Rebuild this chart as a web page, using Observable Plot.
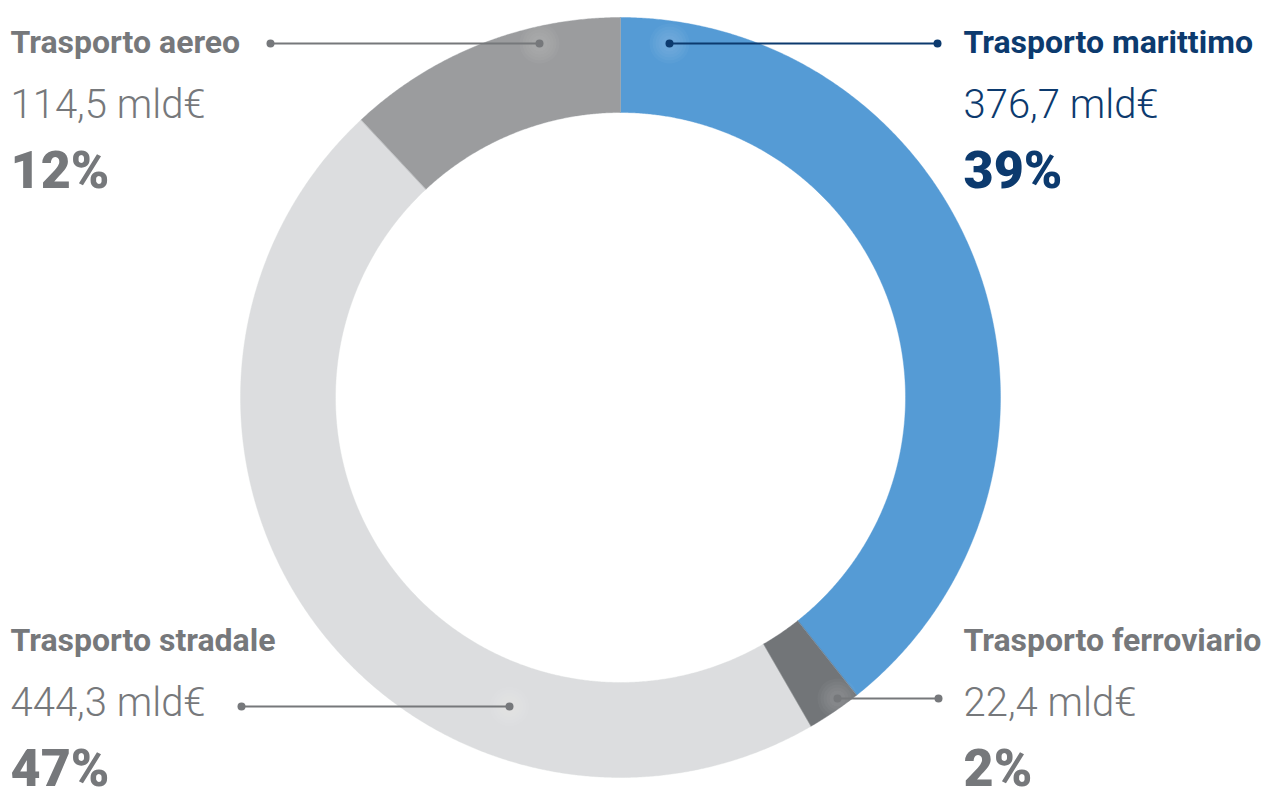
<!DOCTYPE html>
<html>
<head>
<meta charset="utf-8">
<script src="https://cdn.jsdelivr.net/npm/d3@7"></script>
<script src="https://cdn.jsdelivr.net/npm/@observablehq/plot@0.6"></script>
<style>
  html, body { margin: 0; padding: 0; background: #ffffff; }
  #chart svg { display: block; overflow: visible; }
</style>
</head>
<body>
<div id="chart"></div>
<script>
// ---- data ----
const categories = ["Trasporto marittimo", "Trasporto ferroviario", "Trasporto stradale", "Trasporto aereo"];
const values = [376.7, 22.4, 444.3, 114.5];          // mld€
const percents = [39, 2, 47, 12];                    // % as shown
const sliceColors = ["#559BD5", "#727578", "#DCDDDF", "#9B9C9E"];
const textColors = ["#0C3A6E", "#76787B", "#76787B", "#76787B"];

// ---- layout (pixels) ----
const W = 1266, H = 787;
const cx = 620, cy = 397, rOuter = 380, rInner = 285;
const labelX = [963, 963, 10, 10];
const labelRow = ["top", "bottom", "bottom", "top"];
const rowBaselines = {top: [52, 117, 187], bottom: [650, 715, 785]};
const leaders = [
  {x1: 669, y1: 43, x2: 937, y2: 43},
  {x1: 837, y1: 698, x2: 938, y2: 698},
  {x1: 509, y1: 706, x2: 241, y2: 706},
  {x1: 539, y1: 43, x2: 270, y2: 43}
];
const haloRadii = [20, 17, 14, 11, 8];

// ---- build slice outlines from the values via d3.pie ----
const arcs = d3.pie().sort(null).value(d => d)(values);
const ringPoints = [];
arcs.forEach((a, i) => {
  const n = Math.max(8, Math.ceil((a.endAngle - a.startAngle) / 0.005));
  const pts = [];
  for (let k = 0; k <= n; k++) {
    const t = a.startAngle + (a.endAngle - a.startAngle) * k / n;
    pts.push({x: cx + rOuter * Math.sin(t), y: cy - rOuter * Math.cos(t)});
  }
  for (let k = n; k >= 0; k--) {
    const t = a.startAngle + (a.endAngle - a.startAngle) * k / n;
    pts.push({x: cx + rInner * Math.sin(t), y: cy - rInner * Math.cos(t)});
  }
  pts.forEach(p => ringPoints.push({...p, key: categories[i], color: sliceColors[i]}));
});

const fmt = v => v.toFixed(1).replace(".", ",") + " mld€";
const rows = categories.map((c, i) => ({
  label: c,
  value: fmt(values[i]),
  pct: percents[i] + "%",
  x: labelX[i],
  yl: rowBaselines[labelRow[i]][0],
  yv: rowBaselines[labelRow[i]][1],
  yp: rowBaselines[labelRow[i]][2],
  color: textColors[i],
  ...leaders[i]
}));

const chart = Plot.plot({
  width: W,
  height: H,
  margin: 0,
  x: {domain: [0, W], range: [0, W], axis: null},
  y: {domain: [0, H], range: [0, H], axis: null},
  color: {type: "identity"},
  marks: [
    Plot.line(ringPoints, {x: "x", y: "y", z: "key", fill: "color", stroke: "color", strokeWidth: 0.4, curve: "linear-closed"}),
    ...haloRadii.map(r => Plot.dot(rows, {x: "x1", y: "y1", r, fill: "white", fillOpacity: 0.03, stroke: null})),
    Plot.link(rows, {x1: "x1", y1: "y1", x2: "x2", y2: "y2", stroke: "color", strokeWidth: 2}),
    Plot.dot(rows, {x: "x1", y: "y1", r: 4, fill: "color", stroke: null}),
    Plot.dot(rows, {x: "x2", y: "y2", r: 4, fill: "color", stroke: null}),
    Plot.text(rows, {x: "x", y: "yl", text: "label", fill: "color", textAnchor: "start", lineAnchor: "bottom",
      fontFamily: "Roboto", fontSize: 32, fontWeight: 700}),
    Plot.text(rows, {x: "x", y: "yv", text: "value", fill: "color", textAnchor: "start", lineAnchor: "bottom",
      fontFamily: "Roboto", fontSize: 40, fontWeight: 300}),
    Plot.text(rows, {x: "x", y: "yp", text: "pct", fill: "color", textAnchor: "start", lineAnchor: "bottom",
      fontFamily: "Roboto", fontSize: 52, fontWeight: 900})
  ]
});
document.getElementById("chart").append(chart);
</script>
</body>
</html>
